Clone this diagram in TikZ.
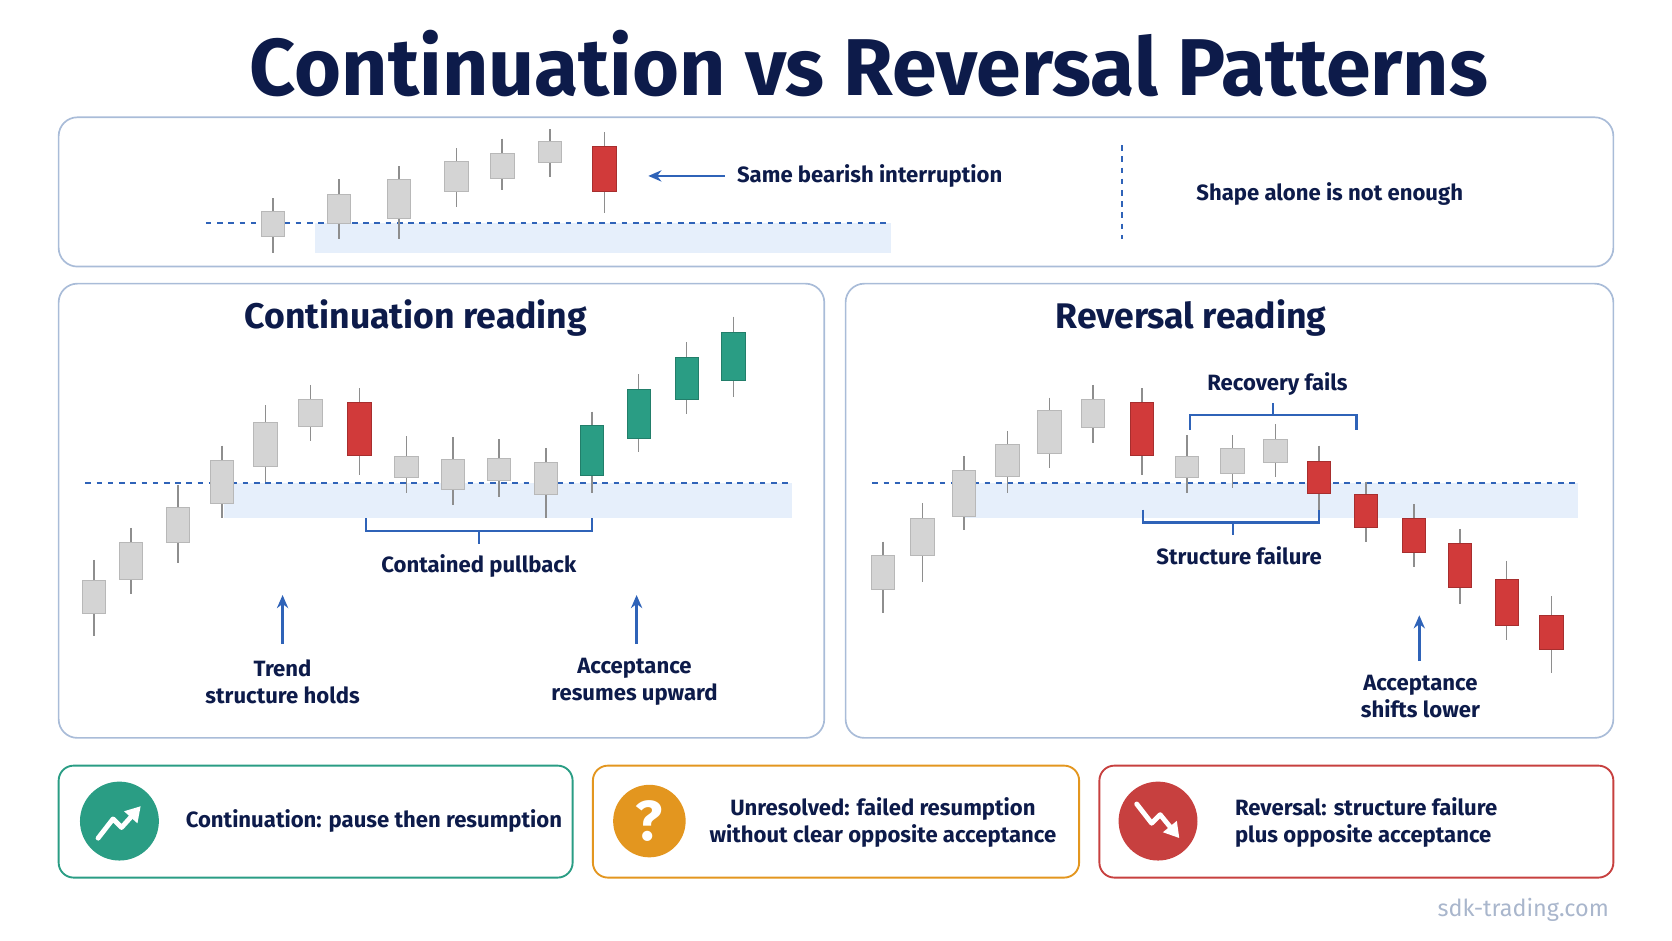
\documentclass[tikz,border=0pt]{standalone}
\usepackage{fontspec}
\setmainfont{Fira Sans}
\usetikzlibrary{arrows.meta}
\definecolor{navy}{HTML}{0D1B4A}
\definecolor{pborder}{HTML}{A9BCD8}
\definecolor{cgray}{HTML}{D4D4D4}
\definecolor{cgrayb}{HTML}{B8B8B8}
\definecolor{wick}{HTML}{8E8E8E}
\definecolor{cred}{HTML}{D13A3A}
\definecolor{cgreen}{HTML}{2A9D84}
\definecolor{cblue}{HTML}{2F63B8}
\definecolor{band}{HTML}{E6EFFB}
\definecolor{corange}{HTML}{E3961F}
\definecolor{rred}{HTML}{C7403F}
\definecolor{foot}{HTML}{A9B6CC}
\newcommand{\cndl}[6]{%
  \draw[wick,line width=0.8pt] (#1,#4) -- (#1,#5);
  \ifx g#6 \filldraw[fill=cgray,draw=cgrayb,line width=0.5pt] (#1-11,#2) rectangle (#1+11,#3);\fi
  \ifx r#6 \filldraw[fill=cred,draw=cred!80!black,line width=0.5pt] (#1-11,#2) rectangle (#1+11,#3);\fi
  \ifx e#6 \filldraw[fill=cgreen,draw=cgreen!80!black,line width=0.5pt] (#1-11,#2) rectangle (#1+11,#3);\fi
}
\begin{document}
\begin{tikzpicture}[x=0.02cm,y=-0.02cm,
  panel/.style={draw=pborder,line width=0.9pt,rounded corners=10},
  txt/.style={text=navy,font=\fontsize{11.8}{14.5}\selectfont\bfseries,align=center},
  ptitle/.style={text=navy,font=\fontsize{19}{22}\selectfont\bfseries},
  dline/.style={cblue,dashed,line width=1pt},
  uparr/.style={cblue,line width=1.3pt,-{Stealth[length=7pt,width=6pt]}},
  brk/.style={cblue,line width=1.2pt}]
\useasboundingbox (0,0) rectangle (1568,882);
\node[text=navy,font=\fontsize{43}{48}\selectfont\bfseries] (title) at (815,60) {Continuation vs Reversal Patterns};
% top panel
\draw[panel] (55,110) rectangle (1513,250);
\fill[band] (295,209) rectangle (836,237);
\draw[dline] (193,209) -- (836,209);
\cndl{256}{198}{222}{186}{237}{g}
\cndl{318}{182}{210}{168}{224}{g}
\cndl{374}{168}{205}{156}{224}{g}
\cndl{428}{151}{180}{139}{194}{g}
\cndl{471}{144}{167}{130}{178}{g}
\cndl{516}{133}{152}{121}{166}{g}
\cndl{567}{137}{180}{124}{200}{r}
\node[txt,anchor=west] (sbi) at (685,165) {Same bearish interruption};
\coordinate (sbiend) at (608,165);
\draw[uparr] ([xshift=-3pt]sbi.west) -- (sbiend);
\draw[cblue,dashed,line width=0.9pt] (1052,136) -- (1052,224);
\node[txt] (shape) at (1247,182) {Shape alone is not enough};
% left panel
\draw[panel] (55,266) rectangle (773,692);
\node[ptitle] (ct) at (390,298) {Continuation reading};
\fill[band] (210,453) rectangle (743,486);
\draw[dline] (80,453) -- (743,453);
\cndl{88}{544}{575}{525}{596}{g}
\cndl{123}{509}{543}{495}{557}{g}
\cndl{167}{476}{509}{455}{528}{g}
\cndl{208}{432}{472}{418}{486}{g}
\cndl{249}{396}{437}{380}{452}{g}
\cndl{291}{375}{400}{361}{414}{g}
\cndl{337}{377}{427}{364}{445}{r}
\cndl{381}{428}{448}{409}{462}{g}
\cndl{425}{431}{459}{410}{474}{g}
\cndl{468}{430}{451}{412}{466}{g}
\cndl{512}{434}{464}{420}{486}{g}
\cndl{555}{399}{446}{386}{462}{e}
\cndl{599}{365}{411}{351}{424}{e}
\cndl{644}{335}{375}{321}{388}{e}
\cndl{688}{312}{357}{297}{372}{e}
\draw[brk] (343,486) -- (343,498) -- (555,498) -- (555,486);
\draw[brk] (449,498) -- (449,510);
\node[txt] (cp) at (449,531) {Contained pullback};
\node[txt] (tsh) at (265,639) {Trend\\structure holds};
\node[txt] (aru) at (595,639) {Acceptance\\resumes upward};
\coordinate (tshbot) at (265,604);
\coordinate (tshtop) at (265,558);
\coordinate (arubot) at (597,604);
\coordinate (arutop) at (597,558);
\draw[uparr] (tshbot) -- (tshtop);
\draw[uparr] (arubot) -- (arutop);
% right panel
\draw[panel] (793,266) rectangle (1513,692);
\node[ptitle] (rt) at (1117,298) {Reversal reading};
\fill[band] (905,453) rectangle (1480,486);
\draw[dline] (818,453) -- (1480,453);
\cndl{828}{521}{553}{508}{575}{g}
\cndl{865}{486}{521}{472}{546}{g}
\cndl{904}{441}{484}{428}{497}{g}
\cndl{945}{417}{447}{404}{462}{g}
\cndl{984}{385}{425}{373}{439}{g}
\cndl{1025}{375}{401}{361}{415}{g}
\cndl{1071}{377}{427}{364}{445}{r}
\cndl{1113}{428}{448}{408}{462}{g}
\cndl{1156}{421}{444}{408}{458}{g}
\cndl{1196}{412}{434}{398}{447}{g}
\cndl{1237}{433}{463}{418}{478}{r}
\cndl{1281}{464}{495}{452}{508}{r}
\cndl{1326}{486}{518}{473}{532}{r}
\cndl{1369}{510}{551}{496}{566}{r}
\cndl{1413}{543}{587}{526}{600}{r}
\cndl{1455}{577}{609}{559}{631}{r}
\node[txt] (rf) at (1198,360) {Recovery fails};
\draw[brk] (1116,403) -- (1116,389) -- (1272,389) -- (1272,403);
\draw[brk] (1194,389) -- (1194,378);
\draw[brk] (1072,478) -- (1072,490) -- (1237,490) -- (1237,478);
\draw[brk] (1156,490) -- (1156,502);
\node[txt] (sf) at (1162,521) {Structure failure};
\node[txt] (asl) at (1332,653) {Acceptance\\shifts lower};
\coordinate (aslbot) at (1331,620);
\coordinate (asltop) at (1331,577);
\draw[uparr] (aslbot) -- (asltop);
% bottom boxes
\draw[draw=cgreen,line width=1pt,rounded corners=8] (55,718) rectangle (537,823);
\fill[cgreen] (112,770) circle (37);
\draw[white,line width=2.6pt,line cap=round,line join=round,-{Triangle[length=8pt,width=9pt]}] (92,786) -- (106,768) -- (114,776) -- (132,756);
\node[txt,anchor=west] (b1) at (168,770) {Continuation: pause then resumption};
\draw[draw=corange,line width=1pt,rounded corners=8] (556,718) rectangle (1012,823);
\fill[corange] (609,770) circle (34);
\node[text=white,font=\fontsize{30}{30}\selectfont\bfseries] (q) at (609,770) {?};
\node[txt] (b2) at (828,771) {Unresolved: failed resumption\\without clear opposite acceptance};
\draw[draw=rred,line width=1pt,rounded corners=8] (1031,718) rectangle (1513,823);
\fill[rred] (1086,770) circle (37);
\draw[white,line width=2.6pt,line cap=round,line join=round,-{Triangle[length=8pt,width=9pt]}] (1066,754) -- (1080,772) -- (1088,764) -- (1106,786);
\node[txt,anchor=west,align=left] (b3) at (1152,771) {Reversal: structure failure\\plus opposite acceptance};
\node[text=foot,font=\fontsize{12.5}{15}\selectfont,anchor=east] (ft) at (1515,853) {sdk-trading.com};
\end{tikzpicture}
\end{document}
